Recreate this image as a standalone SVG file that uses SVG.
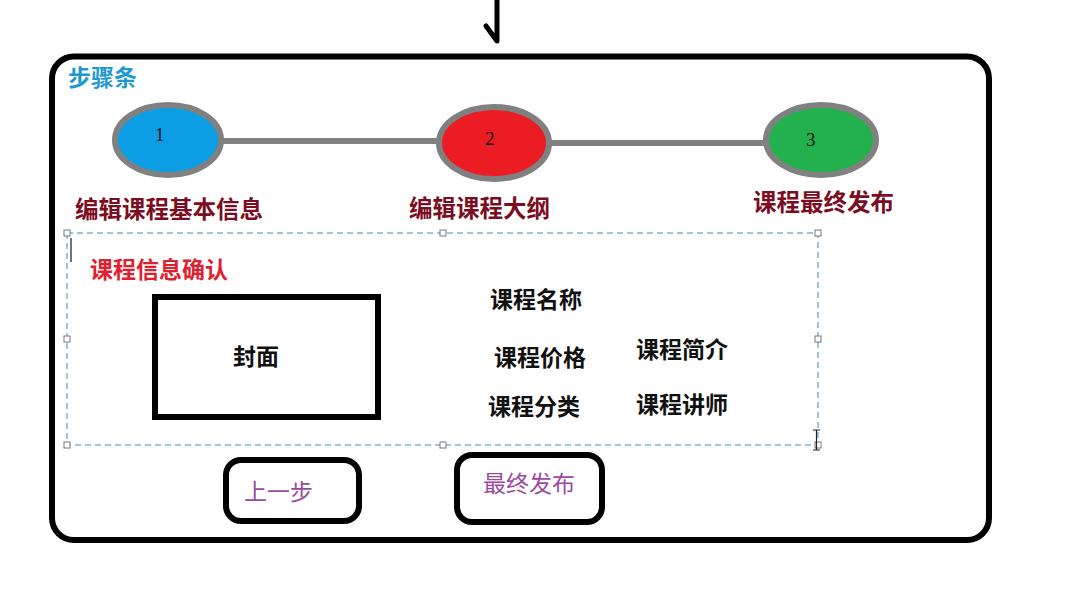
<svg xmlns="http://www.w3.org/2000/svg" width="1090" height="594" viewBox="0 0 1090 594">
<style>
.cjk{font-family:"Liberation Sans","Noto Sans CJK SC",sans-serif;font-weight:bold}
.step{fill:#7a0d22;font-size:23.5px}
.field{fill:#111;font-size:23px}
.num{font-family:"Liberation Serif",serif;font-size:19px;fill:#111}
.node{stroke:#808080;stroke-width:6}
.handle{fill:#fff;stroke:#777;stroke-width:1}
.btn{fill:#fff;stroke:#000;stroke-width:6}
.btntxt{fill:#9b4aa0;font-size:23px;font-weight:normal}
</style>
<rect width="1090" height="594" fill="#fff"/>
<!-- top mark -->
<path d="M497 0 V41 L486 26" fill="none" stroke="#000" stroke-width="5" stroke-linecap="round" stroke-linejoin="round"/>
<!-- outer frame -->
<rect x="52" y="56.5" width="937" height="483.5" rx="22" fill="#fff" stroke="#000" stroke-width="6"/>
<text class="cjk" x="68" y="86" font-size="23" fill="#1e98cf">步骤条</text>
<g id="connectors">
<line x1="222" y1="141" x2="438" y2="141" stroke="#808080" stroke-width="6"/>
<line x1="550" y1="143" x2="765" y2="143" stroke="#808080" stroke-width="6"/>
</g>
<g id="step1">
<ellipse class="node" cx="168" cy="140" rx="53" ry="35" fill="#0c9ee5"/>
<text class="num" x="155" y="141">1</text>
<text class="cjk step" x="75" y="218">编辑课程基本信息</text>
</g>
<g id="step2">
<ellipse class="node" cx="494" cy="143" rx="55" ry="36" fill="#ec1c24"/>
<text class="num" x="485" y="145">2</text>
<text class="cjk step" x="409" y="217">编辑课程大纲</text>
</g>
<g id="step3">
<ellipse class="node" cx="821" cy="140" rx="55" ry="35" fill="#22b14c"/>
<text class="num" x="806" y="146">3</text>
<text class="cjk step" x="753" y="211">课程最终发布</text>
</g>
<g id="confirm">
<rect x="67" y="233" width="751" height="212" fill="none" stroke="#7ab4d8" stroke-width="1.5" stroke-dasharray="6,4"/>
<rect class="handle" x="64" y="230" width="6" height="6"/>
<rect class="handle" x="440" y="230" width="6" height="6"/>
<rect class="handle" x="815" y="230" width="6" height="6"/>
<rect class="handle" x="64" y="336" width="6" height="6"/>
<rect class="handle" x="815" y="336" width="6" height="6"/>
<rect class="handle" x="64" y="442" width="6" height="6"/>
<rect class="handle" x="440" y="442" width="6" height="6"/>
<rect class="handle" x="815" y="442" width="6" height="6"/>
<line x1="71" y1="238" x2="71" y2="262" stroke="#444" stroke-width="1.5"/>
<path d="M813 430 h7 M816.5 430 v20 M813 450 h7" stroke="#222" stroke-width="1.2" fill="none"/>
<text class="cjk" x="90" y="278" font-size="23" fill="#e0202e">课程信息确认</text>
</g>
<g id="cover">
<rect x="155" y="297" width="223" height="120" fill="#fff" stroke="#000" stroke-width="6"/>
<text class="cjk field" x="256" y="365" text-anchor="middle">封面</text>
</g>
<g id="fields">
<text class="cjk field" x="490" y="308">课程名称</text>
<text class="cjk field" x="494" y="366">课程价格</text>
<text class="cjk field" x="488" y="415">课程分类</text>
<text class="cjk field" x="636" y="358">课程简介</text>
<text class="cjk field" x="636" y="413">课程讲师</text>
</g>
<g id="btn-prev">
<rect class="btn" x="226" y="460" width="133" height="61" rx="15"/>
<text class="cjk btntxt" x="244" y="500">上一步</text>
</g>
<g id="btn-publish">
<rect class="btn" x="457" y="455" width="145" height="67" rx="15"/>
<text class="cjk btntxt" x="483" y="492">最终发布</text>
</g>
</svg>
